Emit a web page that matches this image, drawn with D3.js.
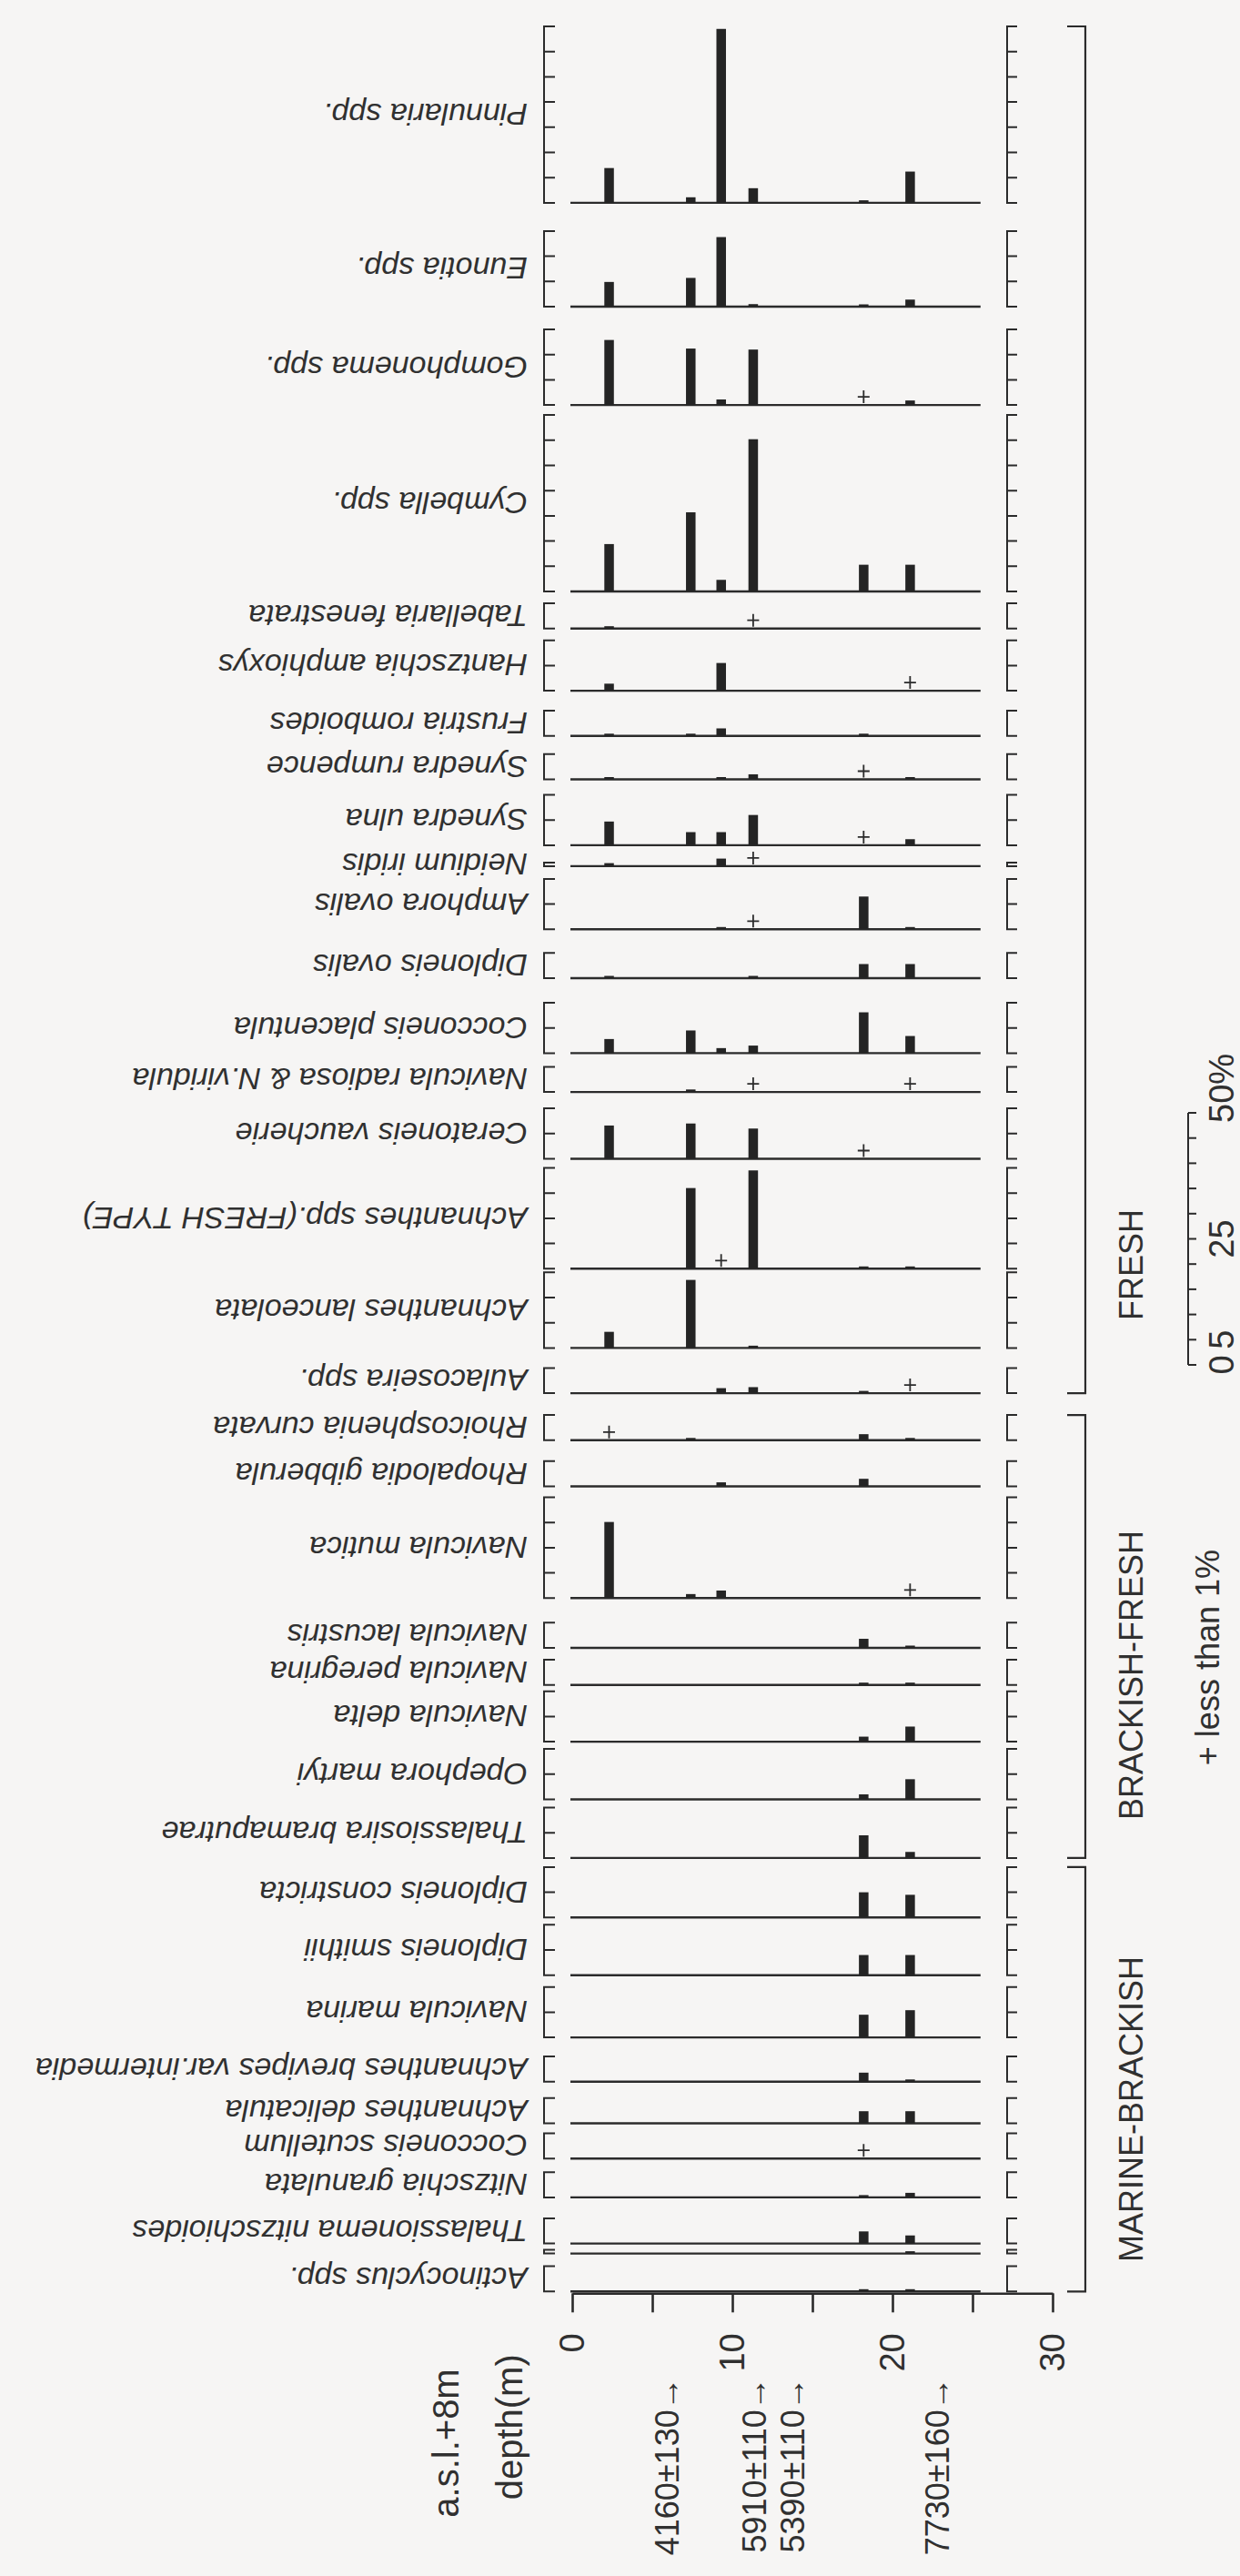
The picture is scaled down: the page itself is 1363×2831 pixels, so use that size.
<!DOCTYPE html>
<html>
<head>
<meta charset="utf-8">
<script src="https://d3js.org/d3.v7.min.js"></script>
<style>
  body { margin: 0; background: #f6f5f4; }
  svg { display: block; }
  .taxon { font-family: "Liberation Sans", Arial, sans-serif; font-style: italic; font-size: 34px; fill: #303030; }
  .txt { font-family: "Liberation Sans", Arial, sans-serif; fill: #303030; }
</style>
</head>
<body>
<script>
// sample depths (m)
const sampleDepth = [2.3, 7.4, 9.3, 11.3, 18.2, 21.1];
const coreBottom = 25.5;

// P = present but less than 1%
const P = -1;

const taxa = [
  "Pinnularia spp.", "Eunotia spp.", "Gomphonema spp.", "Cymbella spp.",
  "Tabellaria fenestrata", "Hantzschia amphioxys", "Frustria romboides",
  "Synedra rumpence", "Synedra ulna", "Neidium iridis", "Amphora ovalis",
  "Diploneis ovalis", "Cocconeis placentula", "Navicula radiosa & N.viridula",
  "Ceratoneis vaucherie", "Achnanthes spp.(FRESH TYPE)", "Achnanthes lanceolata",
  "Aulacoseira spp.",
  "Rhoicosphenia curvata", "Rhopalodia gibberula", "Navicula mutica",
  "Navicula lacustris", "Navicula peregrina", "Navicula delta", "Opephora martyi",
  "Thalassiosira bramaputrae",
  "Diploneis constricta", "Diploneis smithii", "Navicula marina",
  "Achnanthes brevipes var.intermedia", "Achnanthes delicatula",
  "Cocconeis scutellum", "Nitzschia granulata", "Thalassionema nitzschioides",
  "", "Actinocyclus spp."
];

// percent of each taxon at each sample depth
const percent = [
  [6.9, 1.1, 34.5, 2.9, 0.5, 6.2],
  [4.9, 5.7, 13.8, 0.5, 0.3, 1.4],
  [12.9, 11.2, 1.1, 11.0, P, 0.9],
  [9.4, 15.7, 2.3, 30.2, 5.3, 5.3],
  [0.4, 0, 0, P, 0, 0],
  [1.4, 0, 5.5, 0, 0, P],
  [0.4, 0.4, 1.5, 0, 0.4, 0],
  [0.3, 0, 0.3, 1.0, P, 0.3],
  [4.7, 2.6, 2.6, 6.0, P, 1.2],
  [0.6, 0, 1.5, P, 0, 0],
  [0, 0, 0.3, P, 6.5, 0.3],
  [0.3, 0, 0, 0.3, 2.8, 2.8],
  [2.8, 4.5, 1.0, 1.5, 8.1, 3.4],
  [0, 0.5, 0, P, 0, P],
  [6.6, 7.0, 0, 6.0, P, 0],
  [0, 16.0, P, 19.5, 0.3, 0.3],
  [3.2, 13.5, 0, 0.4, 0, 0],
  [0, 0, 1.0, 1.2, 0.3, P],
  [P, 0.3, 0, 0, 1.2, 0.3],
  [0, 0, 0.8, 0, 1.5, 0],
  [15.1, 0.8, 1.5, 0, 0, P],
  [0, 0, 0, 0, 1.8, 0.4],
  [0, 0, 0, 0, 0.3, 0.3],
  [0, 0, 0, 0, 1.0, 3.0],
  [0, 0, 0, 0, 1.0, 4.0],
  [0, 0, 0, 0, 4.5, 1.2],
  [0, 0, 0, 0, 5.0, 4.5],
  [0, 0, 0, 0, 4.0, 4.0],
  [0, 0, 0, 0, 4.5, 5.4],
  [0, 0, 0, 0, 1.8, 0.3],
  [0, 0, 0, 0, 2.4, 2.4],
  [0, 0, 0, 0, P, 0],
  [0, 0, 0, 0, 0.3, 0.9],
  [0, 0, 0, 0, 2.4, 1.6],
  [0, 0, 0, 0, 0, 0.3],
  [0, 0, 0, 0, 0.4, 0.4]
];

// full scale of each taxon's % axis
const scaleMax = [35, 15, 15, 35, 5, 10, 5, 5, 10, 0, 10, 5, 10, 5, 10, 20, 15, 5,
                  5, 5, 20, 5, 5, 10, 10, 10,
                  10, 10, 10, 5, 5, 5, 5, 5, 0, 5];

const groups = ["FRESH", "BRACKISH-FRESH", "MARINE-BRACKISH"];
const groupSize = [18, 8, 10];

const depthTicks = [0, 5, 10, 15, 20, 25, 30];
const depthLabels = [0, 10, 20, 30];
const dates = ["4160±130→", "5910±110→", "5390±110→", "7730±160→"];
const dateDepth = [5.95, 11.4, 13.8, 22.8];
const pctTicks = d3.range(0, 51, 5);
const pctLabels = ["0", "5", "25", "50%"];
const pctLabelAt = [0, 5, 25, 50];

// layout: space above each panel (px), as drawn in the original figure
const gapAbove = [29, 31, 25, 11, 13, 13, 22, 20, 17, 19, 14, 26, 27, 15, 18, 10, 4, 22,
                  24, 23, 12, 27, 13, 7, 8, 9,
                  10, 8, 13, 21, 18, 11, 15, 23, 7, 14];

let W = 1363, H = 2831;
let ink = "#2b2b2b";
let pxPerPct = 27.7 / 5;

let svg = d3.select("body").append("svg")
    .attr("width", W)
    .attr("height", H);

svg.append("rect").attr("width", W).attr("height", H).attr("fill", "#f6f5f4");

let x = d3.scaleLinear().domain([0, 30]).range([629, 1157]);

// stack the panels
let cursor = 0;
let panels = taxa.map((name, i) => {
    cursor += gapAbove[i];
    let h = scaleMax[i] > 0 ? scaleMax[i] * pxPerPct : 4;
    let top = cursor;
    cursor += h;
    let y = d3.scaleLinear().domain([0, 5]).range([cursor, cursor - 5 * pxPerPct]);
    return { name: name, i: i, top: top, base: cursor, y: y };
});

let g = svg.selectAll("g.panel")
    .data(panels)
    .join("g")
    .attr("class", "panel");

// brackets left and right
function bracket(p, x0, x1) {
    let ticks = scaleMax[p.i] > 0 ? d3.range(0, scaleMax[p.i] + 0.1, 5).map(p.y) : [p.base, p.top];
    let d = "M" + x1 + "," + p.top + "H" + x0 + "V" + p.base + "H" + x1;
    ticks.forEach(t => { d += "M" + x0 + "," + t + "H" + x1; });
    return d;
}
g.append("path")
    .attr("d", p => bracket(p, 598, 610))
    .attr("fill", "none").attr("stroke", ink).attr("stroke-width", 2);
g.append("path")
    .attr("d", p => bracket(p, 1107, 1118))
    .attr("fill", "none").attr("stroke", ink).attr("stroke-width", 2);

// zero lines
g.append("line")
    .attr("x1", x(0) - 2).attr("x2", x(coreBottom))
    .attr("y1", p => p.base).attr("y2", p => p.base)
    .attr("stroke", ink).attr("stroke-width", 2.4);

// bars
g.selectAll("rect.bar")
    .data(p => sampleDepth.map((d, j) => ({ d: d, v: percent[p.i][j], p: p })).filter(o => o.v > 0))
    .join("rect")
    .attr("class", "bar")
    .attr("x", o => x(o.d) - 5.2)
    .attr("width", 10.5)
    .attr("y", o => Math.min(o.p.y(o.v), o.p.base - 2.5))
    .attr("height", o => Math.max(o.p.base - o.p.y(o.v), 2.5))
    .attr("fill", "#242424");

// less than 1% markers
g.selectAll("path.plus")
    .data(p => sampleDepth.map((d, j) => ({ d: d, v: percent[p.i][j], p: p })).filter(o => o.v === P))
    .join("path")
    .attr("class", "plus")
    .attr("d", o => {
        let cx = x(o.d), cy = o.p.base - 9;
        return "M" + (cx - 6.5) + "," + cy + "H" + (cx + 6.5) + "M" + cx + "," + (cy - 7) + "V" + (cy + 7);
    })
    .attr("stroke", ink).attr("stroke-width", 1.8);

// taxon names (upside down)
g.append("text")
    .attr("class", "taxon")
    .attr("transform", p => "translate(580," + ((p.top + p.base) / 2) + ") rotate(180)")
    .attr("dominant-baseline", "central")
    .attr("text-anchor", "start")
    .text(p => p.name);

// depth axis
let axisY = panels[panels.length - 1].base + 2;
let axis = d3.axisBottom(x).tickValues(depthTicks).tickSize(21).tickSizeOuter(0).tickFormat("");
svg.append("g")
    .attr("transform", "translate(0," + axisY + ")")
    .call(axis)
    .call(a => a.select(".domain").attr("stroke", ink).attr("stroke-width", 2.4))
    .call(a => a.selectAll(".tick line").attr("stroke", ink).attr("stroke-width", 2.6));

svg.selectAll("text.depth")
    .data(depthLabels)
    .join("text")
    .attr("class", "txt depth")
    .attr("transform", d => "translate(" + x(d) + "," + (axisY + 44) + ") rotate(-90)")
    .attr("text-anchor", "end")
    .attr("dominant-baseline", "central")
    .style("font-size", "38px")
    .text(d => d);

svg.selectAll("text.date")
    .data(dates)
    .join("text")
    .attr("class", "txt date")
    .attr("transform", (d, i) => "translate(" + x(dateDepth[i]) + "," + (axisY + 92) + ") rotate(-90)")
    .attr("text-anchor", "end")
    .attr("dominant-baseline", "central")
    .style("font-size", "36px")
    .text(d => d);

svg.append("text")
    .attr("class", "txt")
    .attr("transform", "translate(490," + (axisY + 83) + ") rotate(-90)")
    .attr("text-anchor", "end").attr("dominant-baseline", "central")
    .style("font-size", "40px")
    .text("a.s.l.+8m");
svg.append("text")
    .attr("class", "txt")
    .attr("transform", "translate(560," + (axisY + 67) + ") rotate(-90)")
    .attr("text-anchor", "end").attr("dominant-baseline", "central")
    .style("font-size", "40px")
    .text("depth(m)");

// ecological groups
let start = 0;
groups.forEach((name, k) => {
    let first = panels[start], last = panels[start + groupSize[k] - 1];
    start += groupSize[k];
    svg.append("path")
        .attr("d", "M1173," + first.top + "H1193V" + last.base + "H1173")
        .attr("fill", "none").attr("stroke", ink).attr("stroke-width", 2.2);
});

let groupLabelY = [1390, 1841, 2318];
groups.forEach((name, k) => {
    svg.append("text")
        .attr("class", "txt")
        .attr("transform", "translate(1243," + groupLabelY[k] + ") rotate(-90)")
        .attr("text-anchor", "middle").attr("dominant-baseline", "central")
        .style("font-size", "36px")
        .text(name);
});

// % scale bar
let yPct = d3.scaleLinear().domain([0, 50]).range([1500, 1500 - 50 * pxPerPct]);
svg.append("line")
    .attr("x1", 1306).attr("x2", 1306)
    .attr("y1", yPct(0)).attr("y2", yPct(50))
    .attr("stroke", ink).attr("stroke-width", 2);
svg.selectAll("line.pt")
    .data(pctTicks)
    .join("line")
    .attr("class", "pt")
    .attr("x1", 1306).attr("x2", 1315)
    .attr("y1", d => yPct(d)).attr("y2", d => yPct(d))
    .attr("stroke", ink).attr("stroke-width", 2);
svg.selectAll("text.pl")
    .data(pctLabels)
    .join("text")
    .attr("class", "txt pl")
    .attr("transform", (d, i) => "translate(1343," + (yPct(pctLabelAt[i]) + (d === "50%" ? 11 : 0)) + ") rotate(-90)")
    .attr("text-anchor", d => d === "50%" ? "start" : "middle")
    .attr("dominant-baseline", "central")
    .style("font-size", "38px")
    .text(d => d);

svg.append("text")
    .attr("class", "txt")
    .attr("transform", "translate(1327,1703) rotate(-90)")
    .attr("text-anchor", "end").attr("dominant-baseline", "central")
    .style("font-size", "36px")
    .text("+ less than 1%");
</script>
</body>
</html>
